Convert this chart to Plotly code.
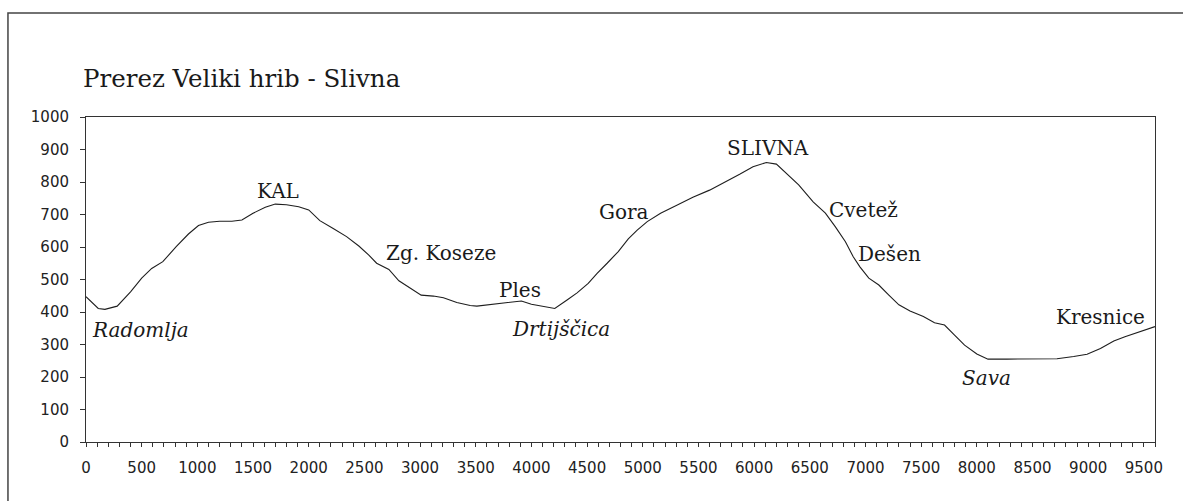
import plotly.graph_objects as go

# Profile distance (m) and elevation (m)
distance = [0, 110, 170, 280, 400, 500, 590, 690, 810, 920, 1010, 1100, 1200, 1310, 1400,
            1500, 1610, 1700, 1800, 1910, 2000, 2100, 2220, 2340, 2450, 2540, 2610, 2720,
            2810, 2910, 3010, 3120, 3210, 3330, 3450, 3510, 3660, 3810, 3910, 4000, 4110,
            4210, 4320, 4410, 4510, 4590, 4680, 4780, 4870, 4950, 5040, 5160, 5310, 5450,
            5600, 5750, 5870, 5990, 6110, 6200, 6290, 6400, 6530, 6640, 6730, 6820, 6890,
            6950, 7030, 7120, 7210, 7300, 7400, 7520, 7620, 7710, 7800, 7890, 8000, 8100,
            8270, 8510, 8720, 8870, 8990, 9110, 9230, 9330, 9470, 9600]
elevation = [447, 411, 408, 418, 462, 504, 534, 555, 601, 640, 666, 676, 679, 679, 683,
             704, 722, 732, 730, 724, 714, 681, 657, 632, 603, 575, 550, 531,
             496, 473, 452, 449, 444, 429, 420, 418, 424, 431, 434, 424, 416,
             411, 437, 459, 488, 519, 550, 586, 625, 652, 678, 704, 729, 753,
             775, 801, 824, 847, 860, 855, 827, 791, 739, 704, 662, 616, 570,
             539, 504, 483, 452, 422, 403, 386, 367, 360, 329, 298, 271, 255,
             255, 255, 256, 263, 270, 288, 311, 324, 339, 355]
assert len(distance) == len(elevation)

# Place names
label_text = ["Radomlja", "KAL", "Zg. Koseze", "Ples", "Drtijščica", "Gora", "SLIVNA",
              "Cvetež", "Dešen", "Kresnice", "Sava"]
label_x = [485, 1724, 3188, 3893, 4270, 4827, 6125, 6983, 7220, 9115, 8087]
label_y = [345, 772, 582, 468, 348, 708, 905, 714, 578, 385, 197]
label_italic = [True, False, False, False, True, False, False, False, False, False, True]

title_text = "Prerez Veliki hrib - Slivna"

fig = go.Figure()
fig.add_trace(go.Scatter(x=distance, y=elevation, mode="lines",
                         line=dict(color="#1e1e1e", width=1.1),
                         hoverinfo="x+y", showlegend=False))

for t, x, y, it in zip(label_text, label_x, label_y, label_italic):
    fig.add_annotation(x=x, y=y, text=t, showarrow=False, xanchor="center", yanchor="middle",
                       font=dict(family="DejaVu Serif", size=20, color="#1a1a1a",
                                 style="italic" if it else "normal"))

# outer chart frame (partially off-page as in the scan)
fig.add_shape(type="rect", xref="paper", yref="paper", x0=-0.073, x1=1.2, y0=-0.4, y1=1.32,
              line=dict(color="#444", width=1.5), fillcolor="rgba(0,0,0,0)", layer="below")

fig.update_layout(
    width=1183, height=501,
    margin=dict(l=86, r=28, t=117, b=59),
    paper_bgcolor="white", plot_bgcolor="white",
    title=dict(text=title_text, x=83 / 1183, xanchor="left", xref="container",
               y=1 - 78 / 501, yanchor="middle", yref="container",
               font=dict(family="DejaVu Serif", size=24.5, color="#1a1a1a")),
    font=dict(family="DejaVu Sans", size=15, color="#222"),
)
fig.update_xaxes(range=[0, 9600], tickmode="linear", tick0=0, dtick=500,
                 ticks="outside", ticklen=4, tickcolor="#333", tickwidth=1,
                 minor=dict(dtick=100, ticks="outside", ticklen=4, tickcolor="#333", tickwidth=1),
                 showline=True, linecolor="#333", linewidth=1, mirror=True,
                 showgrid=False, zeroline=False, ticklabelstandoff=8,
                 tickfont=dict(family="DejaVu Sans", size=15, color="#222"))
fig.update_yaxes(range=[0, 1000], tickmode="linear", tick0=0, dtick=100,
                 ticks="outside", ticklen=5, tickcolor="#333", tickwidth=1,
                 showline=True, linecolor="#333", linewidth=1, mirror=True,
                 showgrid=False, zeroline=False, ticklabelstandoff=8,
                 tickfont=dict(family="DejaVu Sans", size=15, color="#222"))

fig.write_html("out.html", config={"displayModeBar": False},
               post_script="document.body.style.margin='0';")
